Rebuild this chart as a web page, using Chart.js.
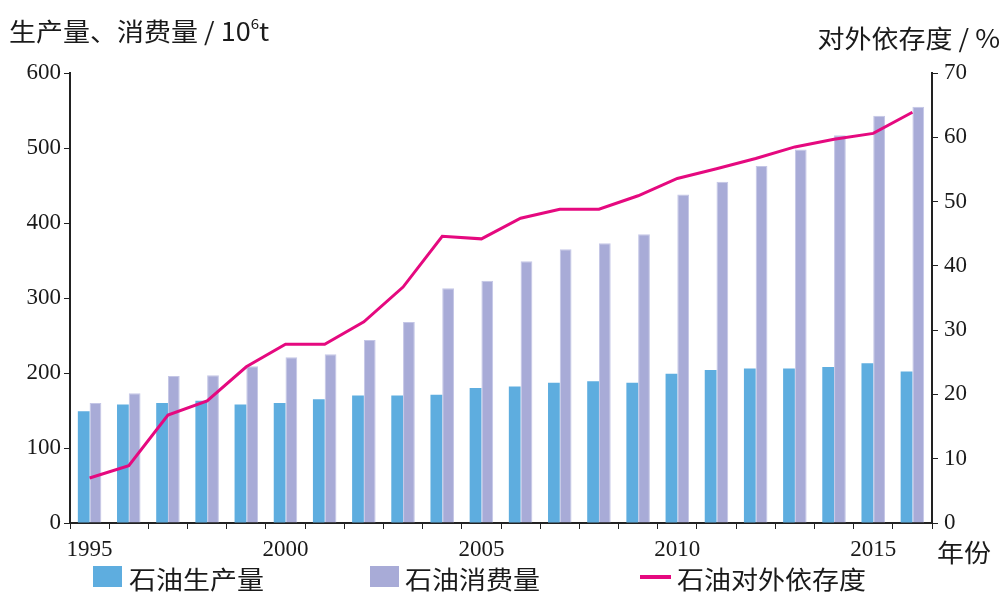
<!DOCTYPE html>
<html>
<head>
<meta charset="utf-8">
<script src="https://cdn.jsdelivr.net/npm/chart.js@4.4.1/dist/chart.umd.min.js"></script>
<style>
  html, body { margin: 0; padding: 0; background: #fff; }
  #wrap { width: 1003px; height: 597px; position: relative; }
</style>
</head>
<body>
<div id="wrap"><canvas id="chart" width="1003" height="597"></canvas></div>
<script>
// data
const years = [1995, 1996, 1997, 1998, 1999, 2000, 2001, 2002, 2003, 2004, 2005,
               2006, 2007, 2008, 2009, 2010, 2011, 2012, 2013, 2014, 2015, 2016];
const production = [149, 158, 160, 163, 158, 160, 165, 170, 170, 171, 180,
                    182, 187, 189, 187, 199, 204, 206, 206, 208, 213, 202];
const consumption = [160, 173, 196, 197, 209, 221, 225, 244, 268, 313, 323,
                     349, 365, 373, 385, 438, 455, 476, 498, 517, 543, 555];
const dependence = [7.0, 8.9, 16.8, 19.0, 24.3, 27.8, 27.8, 31.3, 36.7, 44.6, 44.2,
                    47.4, 48.8, 48.8, 50.9, 53.6, 55.1, 56.7, 58.5, 59.7, 60.6, 63.9];
const leftTicks = [0, 100, 200, 300, 400, 500, 600];
const rightTicks = [0, 10, 20, 30, 40, 50, 60, 70];

const cjk = '"Noto Sans CJK SC", "Noto Sans", sans-serif';
const serif = '"Liberation Serif", "DejaVu Serif", serif';
const axisColor = '#222';
const textColor = '#1a1a1a';

// text a bit wider than the font, as in the picture
function wideText(ctx, str, x, y, align) {
    const sx = 1.08;
    const w = ctx.measureText(str).width * sx;
    let left = x;
    if (align === 'right') left = x - w;
    ctx.save();
    ctx.textAlign = 'left';
    ctx.translate(left, y);
    ctx.scale(sx, 1);
    ctx.fillText(str, 0, 0);
    ctx.restore();
    return w;
}

// titles, axis name and legend drawn by hand
const extras = {
    id: 'extras',
    afterDraw(chart) {
        const ctx = chart.ctx;
        ctx.save();
        ctx.fillStyle = textColor;
        ctx.textBaseline = 'alphabetic';

        // left title
        ctx.font = '25px ' + cjk;
        let w = wideText(ctx, '生产量、消费量 / 10', 9, 41);
        ctx.font = '14px ' + cjk;
        let w2 = wideText(ctx, '6', 9 + w, 29);
        ctx.font = '25px ' + cjk;
        wideText(ctx, 't', 9 + w + w2, 41);

        // right title
        wideText(ctx, '对外依存度 / %', 1000, 48, 'right');

        // x axis name
        wideText(ctx, '年份', 937, 562);

        // legend
        const ds = chart.data.datasets;
        ctx.textBaseline = 'middle';
        ctx.fillStyle = ds[0].backgroundColor;
        ctx.fillRect(93, 566, 29, 21);
        ctx.fillStyle = ds[1].backgroundColor;
        ctx.fillRect(370, 566, 29, 21);
        ctx.strokeStyle = ds[2].borderColor;
        ctx.lineWidth = 4;
        ctx.beginPath();
        ctx.moveTo(640, 577);
        ctx.lineTo(671, 577);
        ctx.stroke();
        ctx.fillStyle = textColor;
        wideText(ctx, ds[0].label, 129, 579);
        wideText(ctx, ds[1].label, 405, 579);
        wideText(ctx, ds[2].label, 677, 579);
        ctx.restore();
    }
};

new Chart(document.getElementById('chart'), {
    type: 'bar',
    data: {
        labels: years,
        datasets: [
            {
                label: '石油生产量',
                data: production,
                backgroundColor: '#5eaddf',
                yAxisID: 'y',
                order: 2,
                categoryPercentage: 0.6,
                barPercentage: 1.0
            },
            {
                label: '石油消费量',
                data: consumption,
                backgroundColor: '#a8abd7',
                borderColor: '#c4c6e6',
                borderWidth: 1,
                yAxisID: 'y',
                order: 2,
                categoryPercentage: 0.6,
                barPercentage: 1.0
            },
            {
                type: 'line',
                label: '石油对外依存度',
                data: dependence,
                borderColor: '#e5097f',
                backgroundColor: '#e5097f',
                borderWidth: 3,
                pointRadius: 0,
                tension: 0,
                yAxisID: 'y1',
                order: 0
            }
        ]
    },
    options: {
        responsive: false,
        animation: false,
        devicePixelRatio: 1,
        layout: { padding: { top: 73, left: 0, right: 0, bottom: 0 } },
        plugins: {
            legend: { display: false },
            tooltip: { enabled: false }
        },
        scales: {
            x: {
                offset: true,
                grid: {
                    offset: true,
                    drawOnChartArea: false,
                    drawTicks: true,
                    tickLength: 6,
                    color: axisColor
                },
                border: { display: true, color: axisColor, width: 2 },
                ticks: {
                    autoSkip: false,
                    maxRotation: 0,
                    padding: 7,
                    color: textColor,
                    font: { family: serif, size: 23 },
                    callback: function (value, index) {
                        const y = years[index];
                        return y % 5 === 0 ? String(y) : '';
                    }
                },
                afterFit(scale) { scale.height = 74; }
            },
            y: {
                position: 'left',
                min: 0,
                max: 600,
                afterBuildTicks(scale) { scale.ticks = leftTicks.map(v => ({ value: v })); },
                grid: {
                    drawOnChartArea: false,
                    drawTicks: true,
                    tickLength: 6,
                    color: axisColor
                },
                border: { display: true, color: axisColor, width: 2 },
                ticks: {
                    padding: 3,
                    color: textColor,
                    font: { family: serif, size: 23 }
                },
                afterFit(scale) { scale.width = 70; }
            },
            y1: {
                position: 'right',
                min: 0,
                max: 70,
                afterBuildTicks(scale) { scale.ticks = rightTicks.map(v => ({ value: v })); },
                grid: {
                    drawOnChartArea: false,
                    drawTicks: true,
                    tickLength: 6,
                    color: axisColor
                },
                border: { display: true, color: axisColor, width: 2 },
                ticks: {
                    padding: 6,
                    color: textColor,
                    font: { family: serif, size: 23 }
                },
                afterFit(scale) { scale.width = 71; }
            }
        }
    },
    plugins: [extras]
});
</script>
</body>
</html>
